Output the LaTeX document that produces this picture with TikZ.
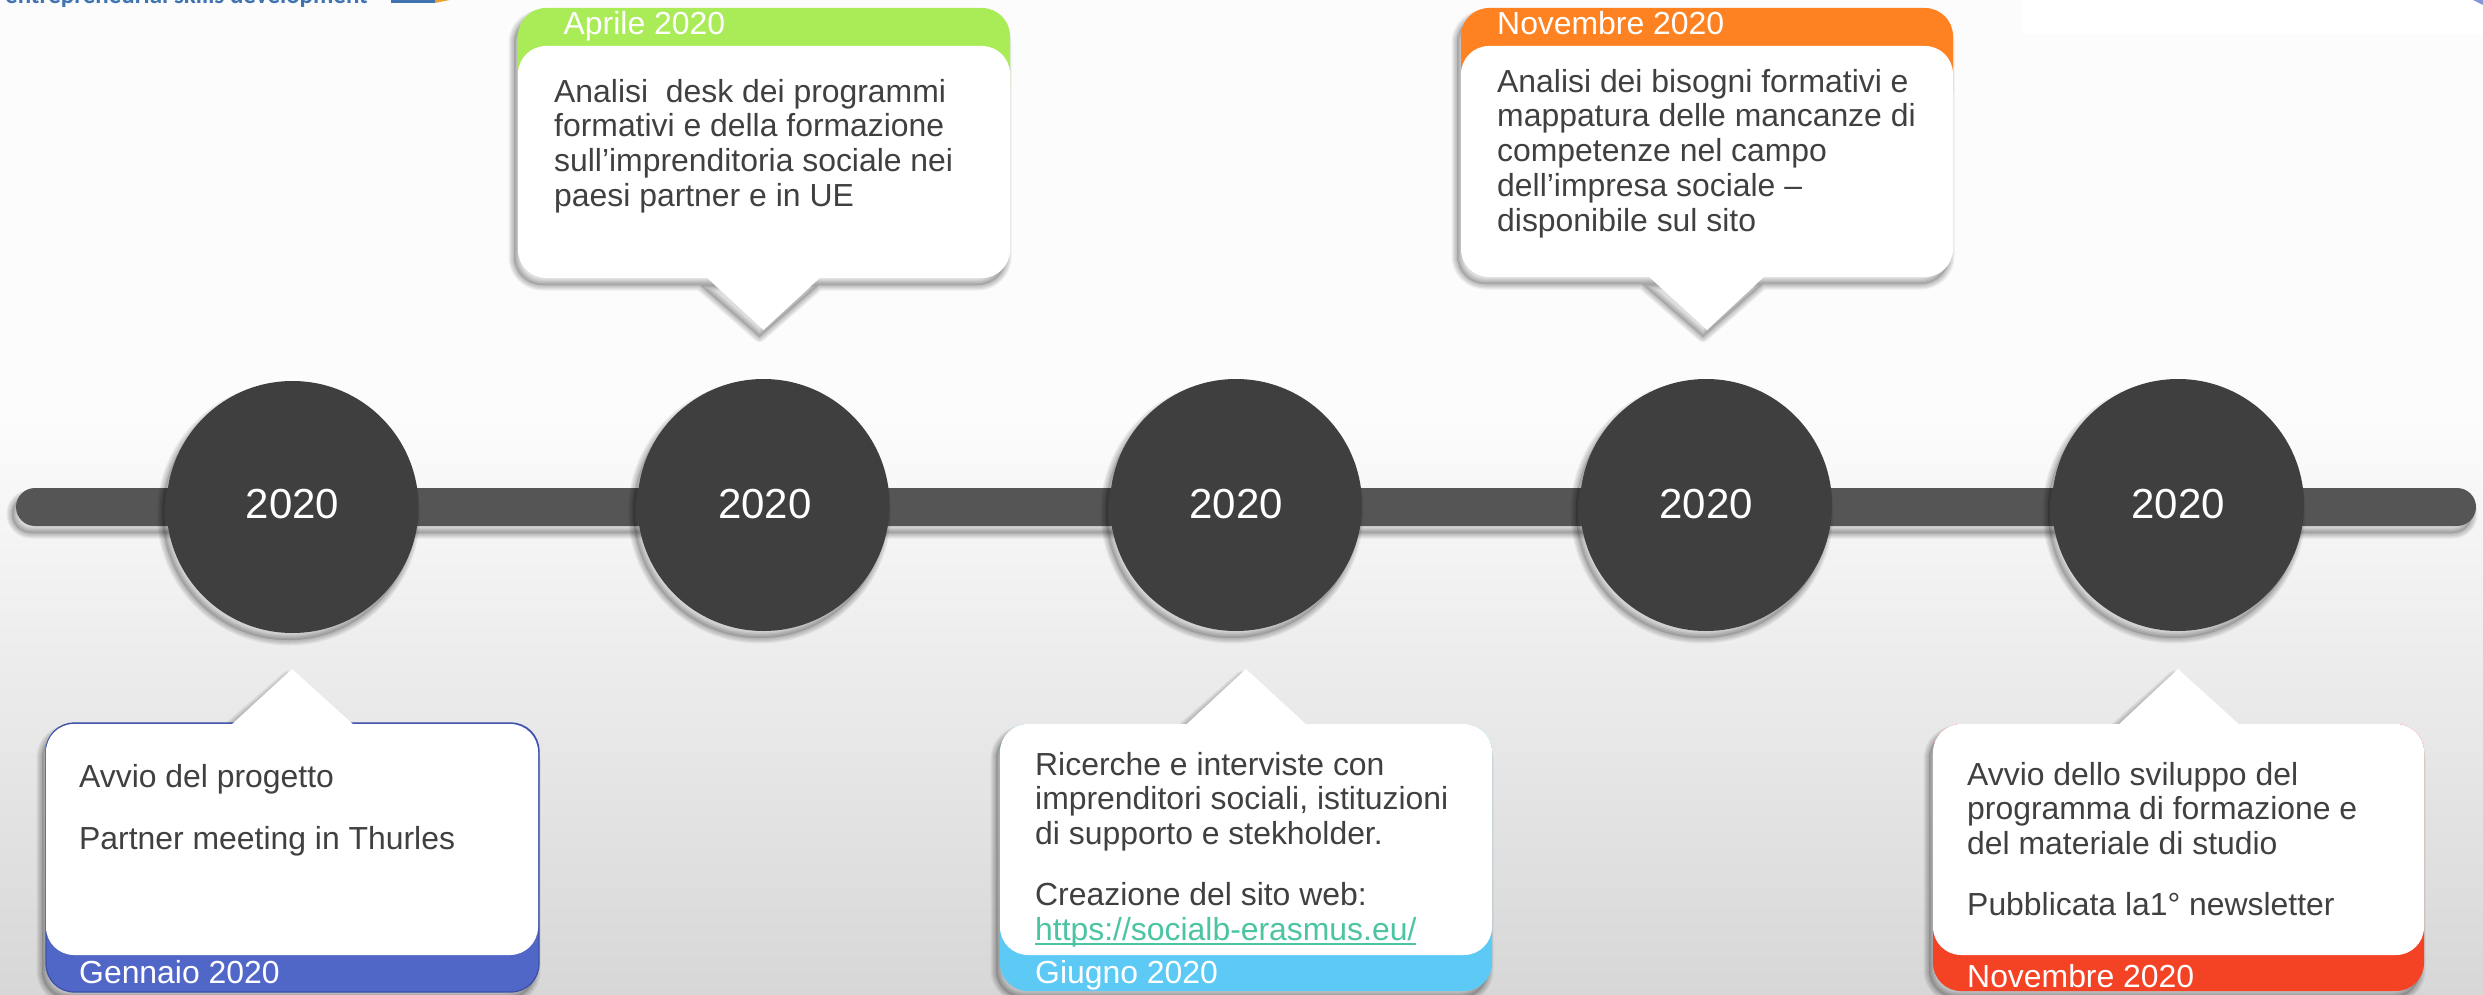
\documentclass[tikz,border=0pt]{standalone}
\usepackage{fontspec}
\setmainfont{Liberation Sans}
\newfontfamily\logofont{Carlito}
\definecolor{txtgrey}{HTML}{404040}
\definecolor{barcol}{HTML}{555555}
\definecolor{disc}{HTML}{3F3F3F}
\definecolor{gbot}{HTML}{D7D7D7}
\definecolor{gtop}{HTML}{FCFCFC}
\definecolor{cblue}{HTML}{5067C8}
\definecolor{cblueline}{HTML}{3B4FA5}
\definecolor{cgreen}{HTML}{A9EC57}
\definecolor{csky}{HTML}{5DCAF5}
\definecolor{corange}{HTML}{FF8222}
\definecolor{cred}{HTML}{F44225}
\definecolor{clink}{HTML}{4CC4A4}
\definecolor{logoblue}{HTML}{3F74B0}
\definecolor{logoorange}{HTML}{F0A030}
\newcommand\softshade[1]{\foreach \w in {11,8.5,6,3.5,1}{%
  \path[fill=black,draw=black,line width=\w pt,fill opacity=.025,draw opacity=.06,line join=round,xshift=-4pt,yshift=-7pt] #1;}}
\newcommand\lnkund[1]{\setbox0\hbox{#1}\rlap{\rule[-4.5pt]{\wd0}{1.8pt}}\box0}
\tikzset{
  x=1pt,y=-1pt,
  corner/.style={rounded corners=28pt},
  body/.style={anchor=north west,inner sep=0pt,align=left,text=txtgrey,font=\fontsize{31.9}{34.7}\selectfont},
  head/.style={anchor=base west,inner sep=0pt,text=white,font=\fontsize{31.9}{34.7}\selectfont},
  disclabel/.style={anchor=base,inner sep=0pt,text=white,font=\fontsize{42}{44}\selectfont},
  discnode/.style={circle,fill=disc,inner sep=0pt,minimum size=252pt},
}
\newcommand\firstline{\rule{0pt}{24pt}}
\begin{document}
\begin{tikzpicture}
\useasboundingbox (0,0) rectangle (2483,995);
\clip (0,0) rectangle (2483,995);
% background
\fill[gtop] (0,0) rectangle (2483,416);
\shade[top color=gtop,bottom color=gbot] (0,415) rectangle (2483,995);
\fill[white] (2022,0) rectangle (2483,34);
% logo remnants
\node[anchor=base west,inner sep=0pt,text=logoblue,font=\logofont\bfseries\fontsize{25}{27}\selectfont] (logo) at (5,4) {entrepreneurial skills development};
\fill[logoblue] (391,0) rectangle (435,3);
\fill[logoorange] (435,0) -- (450,0) -- (435,3) -- cycle;
\fill[cblue!70!white] (2473,0) -- (2483,0) -- (2483,5) -- cycle;
% timeline bar
\softshade{[rounded corners=19pt] (16,488) rectangle (2476,526)}
\fill[barcol,rounded corners=19pt] (16,488) rectangle (2476,526);
% discs
\foreach \n/\cx/\cy in {c1/292.5/507,c2/763.5/505,c3/1236/505,c4/1706/505,c5/2178/505}{
  \softshade{[] (\cx,\cy) circle[radius=126]}
  \node[discnode] (\n) at (\cx,\cy) {};
}
\node[disclabel] (t1) at (292.5,518) {2020};
\node[disclabel] (t2) at (765,518) {2020};
\node[disclabel] (t3) at (1236,518) {2020};
\node[disclabel] (t4) at (1706,518) {2020};
\node[disclabel] (t5) at (2178,518) {2020};
% box 1
\softshade{[corner] (46,723) rectangle (539,992) [sharp corners] (230,723) -- (292,669) -- (355,723) -- cycle}
\fill[cblue,draw=cblueline,line width=1.2pt,corner] (46,723) rectangle (539,992);
\fill[white] (230,726) -- (292,669) -- (355,726) -- cycle;
\fill[white,corner] (46,724) rectangle (538,955);
\node[body] (b1) at (79,763) {\firstline Avvio del progetto\\[27.3pt]Partner meeting in Thurles};
\node[head] (h1) at (79,983) {Gennaio 2020};
% box 2
\softshade{[corner] (518,8) rectangle (1010,278) [sharp corners] (704,278) -- (763.5,330) -- (823,278) -- cycle}
\fill[cgreen,corner] (518,8) rectangle (1010,120);
\fill[white] (704,275) -- (763.5,330) -- (823,275) -- cycle;
\fill[white,corner] (518,46) rectangle (1010,278);
\node[body] (b2) at (554,78) {\firstline Analisi \ desk dei programmi\\formativi e della formazione\\sull’imprenditoria sociale nei\\paesi partner e in UE};
\node[head] (h2) at (563.5,35) {Aprile 2020};
% box 3
\softshade{[corner] (1000,724) rectangle (1492,991) [sharp corners] (1183.5,724) -- (1246,669) -- (1309,724) -- cycle}
\fill[csky,corner] (1000,724) rectangle (1492,991);
\fill[white] (1183.5,727) -- (1246,669) -- (1309,727) -- cycle;
\fill[white,corner] (1000,724) rectangle (1492,955);
\node[body] (b3) at (1035,751) {\firstline Ricerche e interviste con\\imprenditori sociali, istituzioni\\di supporto e stekholder.\\[26.3pt]Creazione del sito web:\\{\color{clink}\lnkund{https://socialb-erasmus.eu/}}};
\node[head] (h3) at (1035,983) {Giugno 2020};
% box 4
\softshade{[corner] (1461,8) rectangle (1953,277) [sharp corners] (1646,277) -- (1707,330) -- (1767,277) -- cycle}
\fill[corange,corner] (1461,8) rectangle (1953,120);
\fill[white] (1646,274) -- (1707,330) -- (1767,274) -- cycle;
\fill[white,corner] (1461,46) rectangle (1953,277);
\node[body] (b4) at (1497,68) {\firstline Analisi dei bisogni formativi e\\mappatura delle mancanze di\\competenze nel campo\\dell’impresa sociale –\\disponibile sul sito};
\node[head] (h4) at (1497,35) {Novembre 2020};
% box 5
\softshade{[corner] (1933,724) rectangle (2424,991) [sharp corners] (2116,724) -- (2178,669) -- (2242,724) -- cycle}
\fill[cred,corner] (1933,724) rectangle (2424,991);
\fill[white] (2116,727) -- (2178,669) -- (2242,727) -- cycle;
\fill[white,corner] (1933,724) rectangle (2424,955);
\node[body] (b5) at (1967,761) {\firstline Avvio dello sviluppo del\\programma di formazione e\\del materiale di studio\\[26.3pt]Pubblicata la1° newsletter};
\node[head] (h5) at (1967,987) {Novembre 2020};
\end{tikzpicture}
\end{document}
